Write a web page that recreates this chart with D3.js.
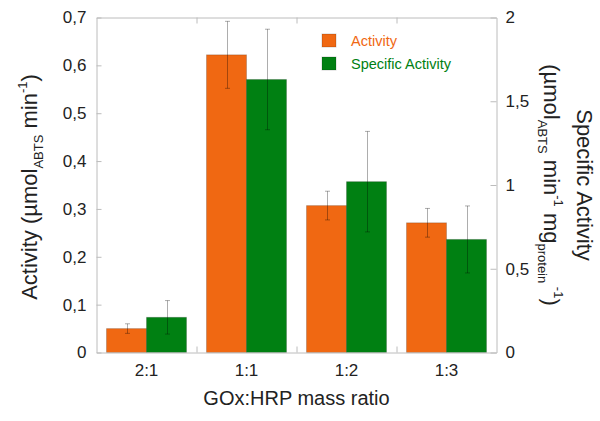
<!DOCTYPE html>
<html>
<head>
<meta charset="utf-8">
<script src="https://cdn.jsdelivr.net/npm/d3@7"></script>
<style>
  body { margin: 0; background: #fff; }
  text { font-family: "Liberation Sans", Arial, sans-serif; fill: #222; }
</style>
</head>
<body>
<svg id="chart" width="600" height="421"></svg>
<script>
// GOx:HRP mass ratio groups
const categories = ["2:1", "1:1", "1:2", "1:3"];
// Activity (left axis, µmol ABTS / min) with standard deviations
const activity = [0.050, 0.622, 0.307, 0.271];
const activityErr = [0.010, 0.070, 0.030, 0.030];
// Specific activity (right axis, µmol ABTS / min / mg protein) with standard deviations
const specificActivity = [0.21, 1.63, 1.02, 0.675];
const specificActivityErr = [0.10, 0.30, 0.30, 0.20];
// Axis ticks
const leftTicks = [0, 0.1, 0.2, 0.3, 0.4, 0.5, 0.6, 0.7];
const rightTicks = [0, 0.5, 1, 1.5, 2];
const seriesNames = ["Activity", "Specific Activity"];
const seriesColors = ["#f06812", "#008012"];

const svg = d3.select("#chart");
const plot = { left: 96.5, right: 496.5, top: 17.5, bottom: 352.5 };

const x = d3.scaleBand().domain(categories).range([plot.left, plot.right]).paddingInner(0).paddingOuter(0);
const xSub = d3.scaleBand().domain([0, 1]).range([0, x.bandwidth()]).paddingInner(0).paddingOuter(0.25);
const xEdge = d3.scaleLinear().domain([0, categories.length]).range([plot.left, plot.right]);
const yL = d3.scaleLinear().domain([0, 0.7]).range([plot.bottom, plot.top]);
const yR = d3.scaleLinear().domain([0, 2]).range([plot.bottom, plot.top]);

const comma = f => d => (d === 0 ? "0" : d3.format(f)(d).replace(".", ","));
const frameColor = "#bcbcbc";

// bars
const series = [
  { values: activity, errs: activityErr, y: yL, color: seriesColors[0] },
  { values: specificActivity, errs: specificActivityErr, y: yR, color: seriesColors[1] }
];
series.forEach((s, si) => {
  const g = svg.append("g");
  g.selectAll("rect").data(categories).join("rect")
    .attr("x", c => x(c) + xSub(si))
    .attr("width", xSub.bandwidth())
    .attr("y", (c, i) => s.y(s.values[i]))
    .attr("height", (c, i) => plot.bottom - s.y(s.values[i]))
    .attr("fill", s.color)
    .attr("stroke", "rgba(0,0,0,0.18)")
    .attr("stroke-width", 1);
});

// error bars
series.forEach((s, si) => {
  const g = svg.append("g").attr("stroke", "rgba(0,0,0,0.32)").attr("stroke-width", 1).attr("fill", "none");
  categories.forEach((c, i) => {
    const cx = Math.round(x(c) + xSub(si) + xSub.bandwidth() / 2) + 0.5;
    const lo = s.y(s.values[i] - s.errs[i]);
    const hi = s.y(s.values[i] + s.errs[i]);
    g.append("line").attr("x1", cx).attr("x2", cx).attr("y1", lo).attr("y2", hi);
    g.append("line").attr("x1", cx - 2.5).attr("x2", cx + 2.5).attr("y1", lo).attr("y2", lo);
    g.append("line").attr("x1", cx - 2.5).attr("x2", cx + 2.5).attr("y1", hi).attr("y2", hi);
  });
});

function styleAxis(g, fontSize) {
  g.selectAll(".domain").attr("stroke", frameColor);
  g.selectAll(".tick line").attr("stroke", frameColor);
  g.selectAll(".tick text").attr("font-size", fontSize).attr("fill", "#222")
    .attr("font-family", "Liberation Sans, Arial, sans-serif");
}

// left axis
svg.append("g").attr("transform", `translate(${plot.left},0)`)
  .call(d3.axisLeft(yL).tickValues(leftTicks).tickSize(-5).tickSizeOuter(0).tickPadding(10).tickFormat(comma(".1f")))
  .call(g => styleAxis(g, 17));

// right axis
svg.append("g").attr("transform", `translate(${plot.right},0)`)
  .call(d3.axisRight(yR).tickValues(rightTicks).tickSize(-6).tickSizeOuter(0).tickPadding(9).tickFormat(comma("~g")))
  .call(g => styleAxis(g, 17));

// top frame with group boundary ticks
svg.append("g").attr("transform", `translate(0,${plot.top})`)
  .call(d3.axisTop(xEdge).tickValues([1, 2, 3]).tickSize(-6).tickSizeOuter(0).tickFormat(""))
  .call(g => styleAxis(g, 17));

// bottom frame with group boundary ticks
svg.append("g").attr("transform", `translate(0,${plot.bottom})`)
  .call(d3.axisBottom(xEdge).tickValues([1, 2, 3]).tickSize(-6).tickSizeOuter(0).tickFormat(""))
  .call(g => styleAxis(g, 17));

// category labels
svg.append("g").attr("transform", `translate(0,${plot.bottom})`)
  .call(d3.axisBottom(x).tickSize(0).tickPadding(11))
  .call(g => g.select(".domain").remove())
  .call(g => styleAxis(g, 17));

// x-axis title
svg.append("text")
  .attr("x", (plot.left + plot.right) / 2).attr("y", 405)
  .attr("text-anchor", "middle").attr("font-size", 20)
  .text("GOx:HRP mass ratio");

// left axis title
const midY = (plot.top + plot.bottom) / 2;
const lt = svg.append("text")
  .attr("transform", `translate(37,${midY + 2}) rotate(-90)`)
  .attr("text-anchor", "middle").attr("font-size", 22);
lt.append("tspan").text("Activity (µmol");
lt.append("tspan").attr("font-size", 13).attr("dy", 6).text("ABTS");
lt.append("tspan").attr("dy", -6).text(" min");
lt.append("tspan").attr("font-size", 13).attr("dy", -10).text("-1");
lt.append("tspan").attr("dy", 10).text(")");

// right axis title
svg.append("text")
  .attr("transform", `translate(577,${midY}) rotate(90)`)
  .attr("text-anchor", "middle").attr("font-size", 22)
  .text("Specific Activity");
const rt = svg.append("text")
  .attr("transform", `translate(544,${midY}) rotate(90)`)
  .attr("text-anchor", "middle").attr("font-size", 22);
rt.append("tspan").text("(µmol");
rt.append("tspan").attr("font-size", 13).attr("dy", 6).text("ABTS");
rt.append("tspan").attr("dy", -6).text(" min");
rt.append("tspan").attr("font-size", 13).attr("dy", -10).text("-1");
rt.append("tspan").attr("dy", 10).text(" mg");
rt.append("tspan").attr("font-size", 13).attr("dy", 6).text("protein");
rt.append("tspan").attr("font-size", 13).attr("dy", -16).text(" -1");
rt.append("tspan").attr("dy", 10).text(")");

// legend
const legend = svg.append("g");
seriesNames.forEach((name, i) => {
  const ly = 34 + i * 23;
  legend.append("rect").attr("x", 322).attr("y", ly).attr("width", 14).attr("height", 13)
    .attr("fill", seriesColors[i]).attr("stroke", "rgba(0,0,0,0.18)");
  legend.append("text").attr("x", 351).attr("y", ly + 12).attr("font-size", 14.5)
    .style("fill", seriesColors[i]).text(name);
});
</script>
</body>
</html>
